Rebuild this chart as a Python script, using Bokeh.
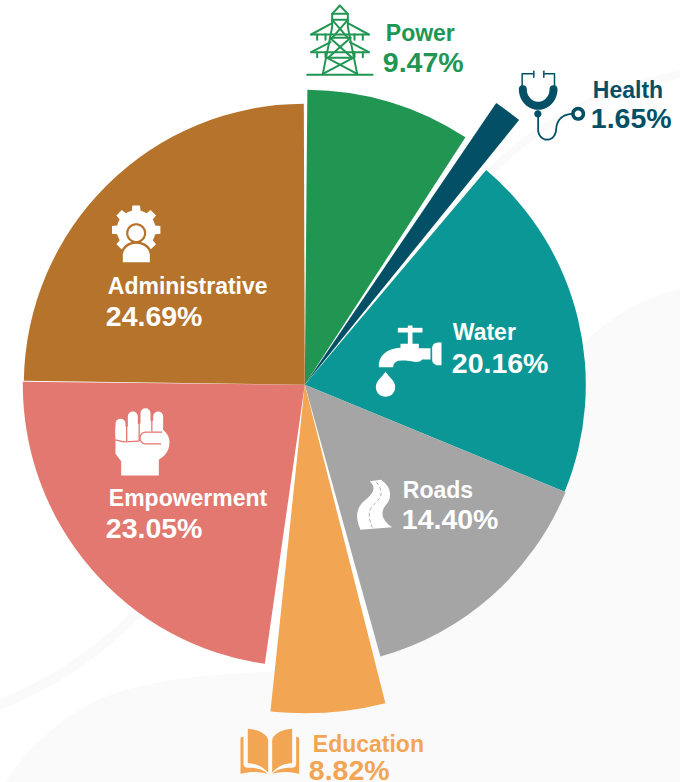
import math
from bokeh.plotting import figure
from bokeh.models import ColumnDataSource, Range1d
from bokeh.core.properties import value
from bokeh.embed import file_html
from bokeh.resources import INLINE

# ---- data ----
categories = ["Power", "Health", "Water", "Roads", "Education", "Empowerment", "Administrative"]
shares = [9.47, 1.65, 20.16, 14.40, 8.82, 23.05, 24.69]
# drawn extent of every wedge, degrees clockwise from twelve o'clock, and its reach
wedge_from = [0.5, 34.2, 40.2, 112.4, 165.8, 188.15, 270.8]
wedge_to = [33.0, 39.0, 112.4, 164.45, 186.0, 270.6, 359.8]
wedge_reach = [295, 340.5, 281, 282, 328.5, 282, 281]

colors = ["#219653", "#035066", "#0B9795", "#A5A5A5", "#F2A552", "#E2786F", "#B5732B"]
label_colors = ["#219653", "#035066", "#FFFFFF", "#FFFFFF", "#F2A552", "#FFFFFF", "#FFFFFF"]
# vertical centres of the label texts
name_pos = [(385.3, 32), (592.3, 89.5), (452.3, 331.5), (402.3, 489.5), (312.3, 743), (108.3, 497), (107.3, 285.5)]
pct_pos = [(382.3, 61.5), (590.3, 117.5), (451.3, 362.5), (401.3, 518.5), (308.3, 769), (105.3, 527.5), (105.3, 315)]

W, H = 680, 782
CX, CY = 304.3, 384.2
FONT = "Liberation Sans"


def fy(y):
    return H - y


def bez(p0, p1, p2, p3, n=24):
    out = []
    for i in range(n + 1):
        t = i / n
        u = 1 - t
        out.append((u**3 * p0[0] + 3 * u * u * t * p1[0] + 3 * u * t * t * p2[0] + t**3 * p3[0],
                    u**3 * p0[1] + 3 * u * u * t * p1[1] + 3 * u * t * t * p2[1] + t**3 * p3[1]))
    return out


def zpts(ox, oy, pts):
    """points measured on a 3x crop whose origin is (ox, oy) -> page pixels"""
    return [(ox + a / 3, oy + b / 3) for a, b in pts]


p = figure(width=W, height=H, x_range=Range1d(0, W), y_range=Range1d(0, H),
           toolbar_location=None, output_backend="svg", min_border=0,
           x_axis_location=None, y_axis_location=None, outline_line_color=None,
           background_fill_color="#FFFFFF", border_fill_color="#FFFFFF")
p.grid.visible = False


def fill(pts, color):
    p.patch([a for a, b in pts], [fy(b) for a, b in pts], fill_color=color, line_color=None)


def stroke(pts, color, width, cap="round", dash=None):
    kw = {"line_dash": dash} if dash else {}
    p.line([a for a, b in pts], [fy(b) for a, b in pts], line_color=color, line_width=width,
           line_cap=cap, line_join="round", **kw)


def circle(cx, cy, r, color):
    fill([(cx + r * math.cos(i * math.pi / 24), cy + r * math.sin(i * math.pi / 24)) for i in range(48)], color)


# ---- faint background shapes ----
BG = "#FAFAFA"
edge = (bez((5, 782), (30, 740), (80, 700), (130, 688), 16) + bez((130, 688), (180, 675), (240, 672), (300, 670), 16)
        + bez((300, 670), (420, 640), (500, 470), (583, 343), 16) + bez((583, 343), (610, 315), (645, 297), (680, 288), 16))
fill(edge + [(680, 782)], BG)
stroke(bez((-6, 706), (60, 680), (100, 650), (150, 600)), BG, 10)
stroke(bez((490, 172), (530, 130), (590, 90), (686, 73)), BG, 8)

# ---- wedges ----
src = ColumnDataSource(dict(
    x=[CX] * 7, y=[fy(CY)] * 7, r=wedge_reach,
    a0=[math.radians(90 - a) for a in wedge_from],
    a1=[math.radians(90 - a) for a in wedge_to],
    c=colors))
p.wedge(x="x", y="y", radius="r", start_angle="a0", end_angle="a1", direction="clock",
        fill_color="c", line_color=None, source=src)

# ---- labels ----
src_n = ColumnDataSource(dict(x=[q[0] for q in name_pos], y=[fy(q[1]) for q in name_pos],
                              t=categories, c=label_colors))
src_p = ColumnDataSource(dict(x=[q[0] for q in pct_pos], y=[fy(q[1]) for q in pct_pos],
                              t=[f"{v:.2f}%" for v in shares], c=label_colors))
p.text(x="x", y="y", text="t", text_color="c", text_font=value(FONT), text_font_style="bold",
       text_font_size="23px", text_baseline="middle", text_align="left", source=src_n)
p.text(x="x", y="y", text="t", text_color="c", text_font=value(FONT), text_font_style="bold",
       text_font_size="28.5px", text_baseline="middle", text_align="left", source=src_p)

# ---- icon: pylon ----
G = colors[0]
for seg in [
    [(50, 223), (246, 223)],
    [(97, 220), (125, 80), (125, 40), (148, 15), (172, 40), (172, 80), (200, 220)],
    [(125, 40), (172, 40)], [(125, 58), (172, 58)],
    [(125, 58), (172, 112)], [(172, 58), (125, 112)],
    [(118, 112), (180, 112)], [(118, 112), (185, 172)], [(180, 112), (113, 172)],
    [(110, 172), (188, 172)], [(110, 172), (200, 220)], [(188, 172), (97, 220)],
    [(62, 102), (125, 68)], [(172, 68), (235, 102)], [(62, 102), (235, 102)],
    [(62, 155), (120, 125)], [(178, 125), (235, 155)], [(62, 155), (235, 155)],
    [(80, 102), (80, 118)], [(105, 102), (105, 118)], [(192, 102), (192, 118)], [(217, 102), (217, 118)],
    [(80, 155), (80, 170)], [(105, 155), (105, 170)], [(192, 155), (192, 170)], [(217, 155), (217, 170)],
]:
    stroke(zpts(290, 0, seg), G, 2)

# ---- icon: stethoscope ----
S = colors[1]
for seg in [[(695, 258), (695, 220), (728, 220)], [(730, 212), (730, 230)],
            [(792, 258), (792, 220), (760, 220)], [(760, 212), (760, 230)]]:
    stroke(zpts(290, 0, seg), S, 1.5)
stroke(zpts(290, 0, [(743 + 46 * math.cos(math.radians(a)), 266 + 50 * math.sin(math.radians(a)))
                     for a in range(0, 181, 6)]), S, 8)
circle(290 + 742 / 3, 340 / 3, 3.6, S)
tube = [(743, 340), (743, 390)] + bez((743, 390), (745, 425), (795, 430), (797, 385), 16) \
    + bez((797, 385), (800, 350), (825, 340), (848, 340), 12)
stroke(zpts(290, 0, tube), S, 1.8)
circle(290 + 863 / 3, 340 / 3, 7, S)
circle(290 + 863 / 3, 340 / 3, 3.4, "#FFFFFF")

# ---- icon: gear and person ----
B = colors[6]
gx, gy = 135.7, 229.3
gear = []
for k in range(8):
    c = k * 45 - 90
    for da, rad in [(-22.5, 19.5), (-13, 19.5), (-9, 24.5), (9, 24.5), (13, 19.5)]:
        ang = math.radians(c + da)
        gear.append((gx + rad * math.cos(ang), gy + rad * math.sin(ang)))
fill(gear, "#FFFFFF")
body = zpts(90, 190, [(97, 215), (97, 192)] + bez((97, 192), (100, 170), (120, 160), (137, 160), 8)
            + bez((137, 160), (155, 160), (175, 170), (178, 192), 8) + [(178, 215)])
stroke(body, B, 5, cap="butt")
fill(body, "#FFFFFF")
circle(90 + 137 / 3, 190 + 128 / 3, 10, B)
circle(90 + 137 / 3, 190 + 128 / 3, 7.8, "#FFFFFF")

# ---- icon: tap ----
fill(zpts(350, 310, [(142, 52), (216, 52), (216, 66), (142, 66)]), "#FFFFFF")
fill(zpts(350, 310, [(172, 45), (186, 45), (186, 105), (172, 105)]), "#FFFFFF")
tap = [(150, 100), (205, 100), (205, 113), (240, 113), (240, 147), (215, 147)] \
    + bez((215, 147), (205, 160), (190, 152), (165, 150), 6) \
    + bez((165, 150), (140, 148), (128, 155), (128, 170), 6) + [(85, 170), (85, 160)] \
    + bez((85, 160), (88, 125), (125, 112), (150, 112), 8)
fill(zpts(350, 310, tap), "#FFFFFF")
fill(zpts(350, 310, [(273, 96), (273, 164), (258, 164)] + bez((258, 164), (248, 160), (245, 155), (245, 148), 4)
                + [(245, 112)] + bez((245, 112), (245, 103), (252, 96), (262, 96), 4)), "#FFFFFF")
drop = [(105, 183)] + bez((105, 183), (95, 200), (76, 210), (76, 230), 8) \
    + bez((76, 230), (76, 268), (134, 268), (134, 230), 10) + bez((134, 230), (134, 210), (115, 200), (105, 183), 8)
fill(zpts(350, 310, drop), "#FFFFFF")

# ---- icon: road ----
road = [(58, 512), (92, 508)] + bez((92, 508), (125, 530), (125, 565), (105, 585), 10) \
    + bez((105, 585), (85, 610), (100, 635), (125, 650), 8) + [(30, 658)] \
    + bez((30, 658), (15, 625), (15, 595), (40, 572), 10) + bez((40, 572), (75, 545), (75, 530), (58, 512), 8)
fill(zpts(350, 310, road), "#FFFFFF")
stroke(zpts(350, 310, bez((78, 515), (100, 545), (95, 560), (70, 582), 10)
            + bez((70, 582), (50, 600), (55, 625), (65, 650), 10)), "#A5A5A5", 0.9, dash="3 3")

# ---- icon: fist ----
P = colors[5]
fill(zpts(90, 400, [(75, 80), (75, 160), (92, 182), (92, 225), (205, 225), (205, 178)]
          + bez((205, 178), (225, 165), (237, 150), (237, 125), 6)
          + bez((237, 125), (237, 105), (225, 95), (215, 85), 6) + [(188, 60), (100, 80)]), "#FFFFFF")
for xa, y0, y1 in [(90, 70, 106), (127, 48, 106), (165, 38, 80), (203, 48, 80)]:
    stroke(zpts(90, 400, [(xa, y0), (xa, y1)]), "#FFFFFF", 10)
for xa, y0, y1 in [(108.5, 60, 122), (146, 45, 122), (184, 50, 93)]:
    stroke(zpts(90, 400, [(xa, y0), (xa, y1)]), P, 1.3, cap="butt")
stroke(zpts(90, 400, [(75, 118), (100, 124), (146, 122)]), P, 1.3, cap="butt")
thumb = [(215, 95), (165, 95)] + bez((165, 95), (143, 95), (143, 130), (165, 130), 8) + [(212, 130)]
stroke(zpts(90, 400, thumb), P, 1.3, cap="butt")

# ---- icon: book ----
E = colors[4]
fill(zpts(220, 640, [(82, 265)] + bez((82, 265), (115, 265), (143, 285), (143, 300), 8) + [(143, 397)]
          + bez((143, 397), (125, 375), (100, 368), (82, 368), 8)), E)
fill(zpts(220, 640, [(215, 265)] + bez((215, 265), (182, 265), (155, 285), (155, 300), 8) + [(155, 397)]
          + bez((155, 397), (172, 375), (197, 368), (215, 368), 8)), E)
fill(zpts(220, 640, [(60, 292), (69, 288), (69, 372)] + bez((69, 372), (70, 382), (80, 382), (90, 382), 4)
          + bez((90, 382), (115, 382), (130, 390), (142, 400), 6) + bez((142, 400), (115, 392), (85, 394), (60, 400), 6)), E)
fill(zpts(220, 640, [(236, 292), (227, 288), (227, 372)] + bez((227, 372), (226, 382), (216, 382), (206, 382), 4)
          + bez((206, 382), (181, 382), (166, 390), (155, 400), 6) + bez((155, 400), (181, 392), (211, 394), (236, 400), 6)), E)

html = file_html(p, INLINE)
html = html.replace("<head>", "<head><style>html,body{margin:0;padding:0;overflow:hidden}</style>", 1)
open("out.html", "w").write(html)
